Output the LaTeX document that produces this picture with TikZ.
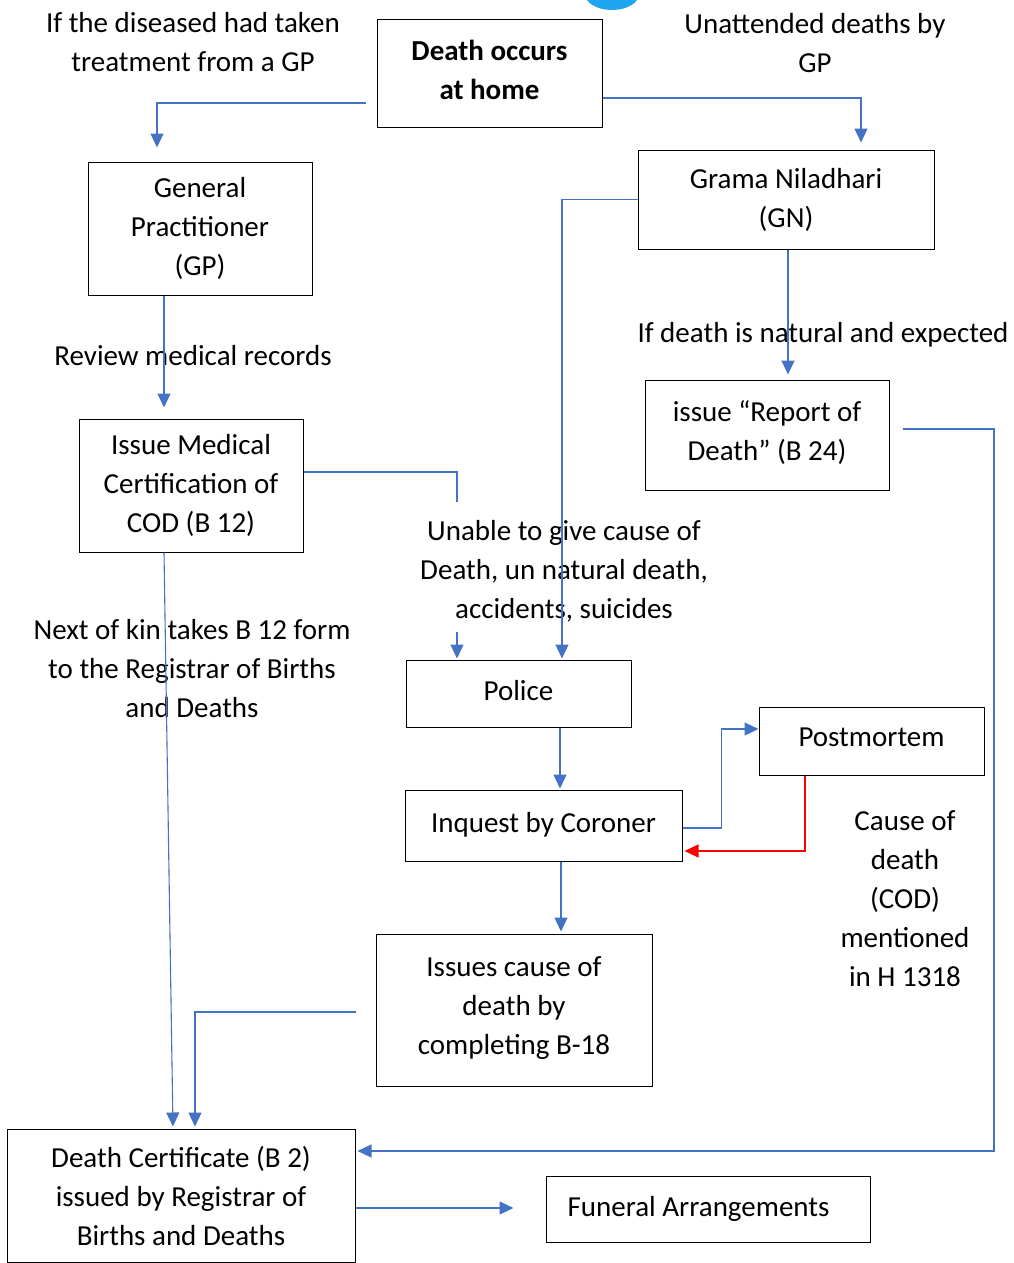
\documentclass[tikz,border=0pt]{standalone}
\usepackage{fontspec}
\setmainfont{Carlito}
\usetikzlibrary{arrows.meta, positioning, calc}
\definecolor{FlowBlue}{HTML}{4472C4}
\definecolor{FlowRed}{HTML}{FF0000}
\definecolor{SkyBlob}{HTML}{1EA7F0}

\begin{document}
\begin{tikzpicture}[x=1pt, y=-1pt, >={Triangle[length=14pt, width=13pt]},
  box/.style={draw, line width=1pt, align=center, inner sep=0pt,
    font=\fontsize{29}{39}\selectfont},
  lbl/.style={align=center, inner sep=0pt, font=\fontsize{29}{39}\selectfont},
  flow/.style={FlowBlue, line width=1.1pt}]
  \useasboundingbox (0,0) rectangle (1014,1263);
  \begin{scope}
    \clip (0,0) rectangle (1014,1263);
    \fill[SkyBlob] (612,-6) ellipse (27pt and 16pt);
  \end{scope}

  % boxes
  \node[box, minimum width=225pt, minimum height=107pt, text depth=8pt,
    font=\fontsize{29}{39}\selectfont\bfseries]
    (home) at (489.5,73.5) {Death occurs\\at home};
  \node[box, minimum width=224pt, minimum height=133pt] (gp) at (200,228.5)
    {General\\Practitioner\\(GP)};
  \node[box, minimum width=296pt, minimum height=99pt] (gn) at (786,199.5)
    {Grama Niladhari\\(GN)};
  \node[box, minimum width=244pt, minimum height=110pt, text depth=9pt] (rod) at (767,435)
    {issue “Report of\\Death” (B 24)};
  \node[box, minimum width=224pt, minimum height=133pt] (mcod) at (191,485.5)
    {Issue Medical\\Certification of\\COD (B 12)};
  \node[box, minimum width=225pt, minimum height=67pt, text depth=6pt] (police) at (518.5,693.5) {Police};
  \node[box, minimum width=225pt, minimum height=68pt, text depth=7pt] (pm) at (871.5,741) {Postmortem};
  \node[box, minimum width=277pt, minimum height=71pt, text depth=6pt] (coroner) at (543.5,825.5)
    {Inquest by Coroner};
  \node[box, minimum width=276pt, minimum height=152pt, text depth=9pt] (b18) at (514,1010)
    {Issues cause of\\death by\\completing B-18};
  \node[box, minimum width=348pt, minimum height=133pt] (cert) at (181,1195.5)
    {Death Certificate (B 2)\\issued by Registrar of\\Births and Deaths};
  \node[box, minimum width=324pt, minimum height=66pt, text depth=6pt] (funeral) at (708,1209)
    {\hspace*{-19pt}Funeral Arrangements};

  % labels
  \node[lbl] (gpCase) at (193,42.5) {If the diseased had taken\\treatment from a GP};
  \node[lbl] (gnCase) at (815,43.5) {Unattended deaths by\\GP};
  \node[lbl] (review) at (193,356) {Review medical records};
  \node[lbl] (natural) at (823,335) {If death is natural and expected};
  \node[lbl] (unable) at (564,571.5)
    {Unable to give cause of\\Death, un natural death,\\accidents, suicides};
  \node[lbl] (kin) at (192,668.5)
    {Next of kin takes B 12 form\\to the Registrar of Births\\and Deaths};
  \node[lbl] (codNote) at (905,899) {Cause of\\death\\(COD)\\mentioned\\in H 1318};

  % free ends
  \coordinate (homeW) at (366,103);
  \coordinate (mcodEnd) at (457,502);
  \coordinate (policeIn) at (457,632);
  \coordinate (b18W) at (356,1012);
  \coordinate (rodE) at (903,429);

  % connectors
  \draw[flow, ->, shorten >=14pt] (homeW) -| ([xshift=-43pt]gp.north);
  \draw[flow, ->, shorten >=7pt] ([yshift=-24.5pt]home.east) -| ([xshift=75pt]gn.north);
  \draw[flow, ->, shorten >=11pt] ([xshift=-36pt]gp.south) -- ([xshift=-27pt]mcod.north);
  \draw[flow, ->, shorten >=5pt] ([xshift=2pt]gn.south) -- ([xshift=21pt]rod.north);
  \draw[flow, ->, shorten >=1pt] (gn.west) -| ([xshift=43.5pt]police.north);
  \draw[flow] ([yshift=13.5pt]mcod.east) -| (mcodEnd);
  \draw[flow, ->, shorten >=1pt] (policeIn) -- ([xshift=-61.5pt]police.north);
  \draw[flow, ->, shorten >=2pt] ([xshift=-27pt]mcod.south) -- ([xshift=-8pt]cert.north);
  \draw[flow, ->, shorten >=1pt] ([xshift=41.5pt]police.south) -- ([xshift=16.5pt]coroner.north);
  \draw[flow, ->] ([yshift=-2.5pt]coroner.east) -- ++(39,0) |- ([yshift=12pt]pm.west);
  \draw[FlowRed, line width=1.1pt, ->, shorten >=2pt]
    ([xshift=-66.5pt]pm.south) |- ([yshift=-25.5pt]coroner.east);
  \draw[flow, ->, shorten >=2pt] ([xshift=17.5pt]coroner.south) -- ([xshift=47pt]b18.north);
  \draw[flow, ->, shorten >=2pt] (b18W) -| ([xshift=14pt]cert.north);
  \draw[flow, ->, shorten >=2pt] (rodE) -- ++(91,0) |- ([yshift=44.5pt]cert.east);
  \draw[flow, ->, shorten >=32pt] ([yshift=-12.5pt]cert.east) -- ([yshift=-12.5pt]cert.east -| funeral.west);
\end{tikzpicture}
\end{document}
